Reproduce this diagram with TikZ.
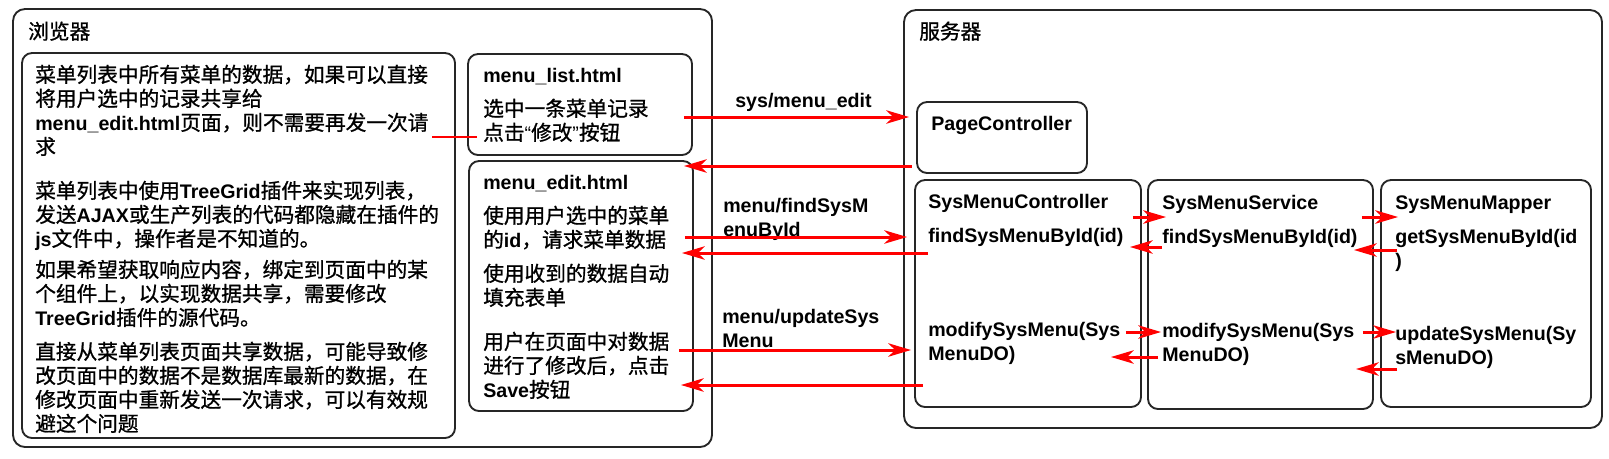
\documentclass[tikz,border=0pt]{standalone}
\usepackage{fontspec}
\newfontfamily\cjk{Noto Sans CJK SC}[FakeBold=1]
\newfontfamily\enfont{Liberation Sans}[Scale=0.95]
\newcommand\en[1]{{\enfont\bfseries #1}}
\usetikzlibrary{fit,arrows.meta}

\begin{document}
\begin{tikzpicture}[x=0.75pt,y=-0.75pt,
    box/.style={draw=black!85, line width=1.4pt, rounded corners=7.5pt, inner sep=0pt},
    bigbox/.style={box, rounded corners=9pt},
    txt/.style={inner sep=0pt, align=left, font=\cjk\fontsize{15.5}{18}\selectfont},
    lat/.style={txt, font=\fontsize{15.5}{18}\selectfont\enfont\bfseries},
    arr/.style={draw=red, line width=2.25pt, -{Stealth[length=17pt,width=10pt,inset=5pt]}},
  ]
    \useasboundingbox (0,0) rectangle (1609,458);

    % Browser side
    \node[bigbox, fit={(13,9) (712,447)}] (browser) {};
    \node[txt, anchor=base west] (browsertitle) at (28,39) {浏览器};
    \node[box, fit={(22,53) (455,438)}] (note) {};
    \node[box, fit={(468,54) (692,155)}] (menulist) {};
    \node[box, fit={(469,161) (693,411)}] (menuedit) {};

    \node[txt, anchor=north west] (note1) at (35,64.5) {菜单列表中所有菜单的数据，如果可以直接\\将用户选中的记录共享给\\\en{menu\_edit.html}页面，则不需要再发一次请\\求};
    \node[txt, anchor=north west] (note2) at (35,180.5) {菜单列表中使用\en{TreeGrid}插件来实现列表，\\发送\en{AJAX}或生产列表的代码都隐藏在插件的\\\en{js}文件中，操作者是不知道的。};
    \node[txt, anchor=north west] (note3) at (35,259.5) {如果希望获取响应内容，绑定到页面中的某\\个组件上，以实现数据共享，需要修改\\\en{TreeGrid}插件的源代码。};
    \node[txt, anchor=north west] (note4) at (35,341.5) {直接从菜单列表页面共享数据，可能导致修\\改页面中的数据不是数据库最新的数据，在\\修改页面中重新发送一次请求，可以有效规\\避这个问题};

    \node[lat, anchor=base west] (listtitle) at (483,82) {menu\_list.html};
    \node[txt, anchor=north west] (listtext) at (483,98.5) {选中一条菜单记录\\点击{\enfont “}修改{\enfont ”}按钮};
    \node[lat, anchor=base west] (edittitle) at (483,189) {menu\_edit.html};
    \node[txt, anchor=north west] (edittext1) at (483,205.5) {使用用户选中的菜单\\的\en{id}，请求菜单数据};
    \node[txt, anchor=north west] (edittext2) at (483,263.5) {使用收到的数据自动\\填充表单};
    \node[txt, anchor=north west] (edittext3) at (483,331.5) {用户在页面中对数据\\进行了修改后，点击\\\en{Save}按钮};

    % Server side
    \node[bigbox, fit={(904,10) (1602,428)}] (server) {};
    \node[txt, anchor=base west] (servertitle) at (919,39) {服务器};
    \node[box, fit={(917,102) (1087,173)}] (pagectl) {};
    \node[box, fit={(915,180) (1141,407)}] (ctl) {};
    \node[box, fit={(1148,180) (1373,409)}] (svc) {};
    \node[box, fit={(1381,180) (1591,407)}] (mapper) {};

    \node[lat, anchor=base west] (pagectltitle) at (931,130) {PageController};
    \node[lat, anchor=base west] (ctltitle) at (928,208) {SysMenuController};
    \node[lat, anchor=base west] (ctlfind) at (928,242) {findSysMenuById(id)};
    \node[lat, anchor=north west] (ctlmodify) at (928,321.7) {modifySysMenu(Sys\\MenuDO)};
    \node[lat, anchor=base west] (svctitle) at (1162,209) {SysMenuService};
    \node[lat, anchor=base west] (svcfind) at (1162,243) {findSysMenuById(id)};
    \node[lat, anchor=north west] (svcmodify) at (1162,322.7) {modifySysMenu(Sys\\MenuDO)};
    \node[lat, anchor=base west] (mappertitle) at (1395,209) {SysMenuMapper};
    \node[lat, anchor=north west] (mapperget) at (1395,228.7) {getSysMenuById(id\\)};
    \node[lat, anchor=north west] (mapperupdate) at (1395,325.7) {updateSysMenu(Sy\\sMenuDO)};

    % Requests
    \node[lat, anchor=base west] (req1) at (735,107) {sys/menu\_edit};
    \node[lat, anchor=north west] (req2) at (723,197.7) {menu/findSysM\\enuById};
    \node[lat, anchor=north west] (req3) at (722,308.7) {menu/updateSys\\Menu};

    \draw[arr, shorten <=-6.75pt, shorten >=5.25pt] (menulist.east |- 0,117) -- (pagectl.west |- 0,117);
    \draw[arr, shorten <=3pt, shorten >=-7.5pt] (pagectl.west |- 0,166) -- (menuedit.east |- 0,166);
    \draw[arr, shorten <=-6.75pt, shorten >=5.25pt] (menuedit.east |- 0,237) -- (ctl.west |- 0,237);
    \draw[arr, shorten <=-10.5pt, shorten >=-9pt] (ctl.west |- 0,253) -- (menuedit.east |- 0,253);
    \draw[arr, shorten <=-11.25pt, shorten >=2.25pt] (menuedit.east |- 0,350) -- (ctl.west |- 0,350);
    \draw[arr, shorten <=-6.75pt, shorten >=-9.75pt] (ctl.west |- 0,385) -- (menuedit.east |- 0,385);

    \draw[arr, shorten <=-6.75pt, shorten >=-14.25pt] (ctl.east |- 0,217) -- (svc.west |- 0,217);
    \draw[arr, shorten <=-11.25pt, shorten >=-9pt] (svc.west |- 0,247) -- (ctl.east |- 0,247);
    \draw[arr, shorten <=-12pt, shorten >=-10.5pt] (ctl.east |- 0,332) -- (svc.west |- 0,332);
    \draw[arr, shorten <=-8.25pt, shorten >=-23.25pt] (svc.west |- 0,357) -- (ctl.east |- 0,357);

    \draw[arr, shorten <=-9pt, shorten >=-13.5pt] (svc.east |- 0,217) -- (mapper.west |- 0,217);
    \draw[arr, shorten <=-12.75pt, shorten >=-15pt] (mapper.west |- 0,250) -- (svc.east |- 0,250);
    \draw[arr, shorten <=-8.25pt, shorten >=-12pt] (svc.east |- 0,332) -- (mapper.west |- 0,332);
    \draw[arr, shorten <=-12.75pt, shorten >=-13.5pt] (mapper.west |- 0,369) -- (svc.east |- 0,369);

    % Shared data note
    \draw[red, line width=2.1pt, dash pattern=on 33.75pt off 2.5pt, shorten <=-7.5pt, shorten >=-20.25pt] (menulist.west |- 0,137) -- (note.east |- 0,137);
\end{tikzpicture}
\end{document}
